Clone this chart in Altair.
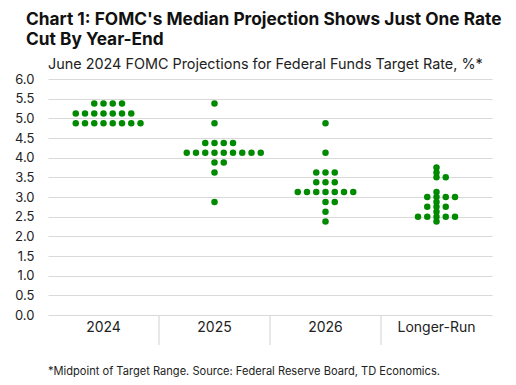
import altair as alt
import pandas as pd

# ---- data ----
years = ["2024", "2025", "2026", "Longer-Run"]

# for every year: dot levels (%), column of the first dot in the row, number of dots
rates_2024 = [5.375, 5.125, 4.875]
first_2024 = [-1, -3, -3]
count_2024 = [4, 7, 8]

rates_2025 = [5.375, 4.875, 4.375, 4.125, 3.875, 3.625, 2.875]
first_2025 = [0, 0, -1, -3, 0, 0, 0]
count_2025 = [1, 1, 4, 9, 2, 1, 1]

rates_2026 = [4.875, 4.125, 3.625, 3.375, 3.125, 2.875, 2.625, 2.375]
first_2026 = [0, 0, -1, -1, -3, 0, 0, 0]
count_2026 = [1, 1, 3, 3, 7, 2, 1, 1]

rates_lr = [3.75, 3.625, 3.5, 3.125, 3.0, 2.875, 2.75, 2.625, 2.5, 2.375]
first_lr = [0, 0, 0, 0, -1, 0, -1, 0, -2, 0]
count_lr = [1, 1, 2, 1, 4, 1, 3, 1, 5, 1]

y_ticks = [0.0, 0.5, 1.0, 1.5, 2.0, 2.5, 3.0, 3.5, 4.0, 4.5, 5.0, 5.5, 6.0]

title_lines = ["Chart 1: FOMC's Median Projection Shows Just One Rate", "Cut By Year-End"]
subtitle = "June 2024 FOMC Projections for Federal Funds Target Rate, %*"
footnote = "*Midpoint of Target Range. Source: Federal Reserve Board, TD Economics."

# ---- build table ----
rows = []
for yr, rates, firsts, counts in [
    ("2024", rates_2024, first_2024, count_2024),
    ("2025", rates_2025, first_2025, count_2025),
    ("2026", rates_2026, first_2026, count_2026),
    ("Longer-Run", rates_lr, first_lr, count_lr),
]:
    for r, f, c in zip(rates, firsts, counts):
        for k in range(c):
            rows.append({"year": yr, "rate": r, "col": f + k})
df = pd.DataFrame(rows)
sep_df = pd.DataFrame({"year": years[1:]})

W, H = 455, 236
GREEN = "#008a00"
GRID = "#d9d9d9"
FONT = "Inter"
TXT = "#222222"

xscale = alt.Scale(domain=years, range=[0, 444], paddingInner=0, paddingOuter=0)
xaxis = alt.Axis(labelAngle=0, ticks=False, domain=False, grid=False,
                 labelFont=FONT, labelFontSize=14, labelColor=TXT,
                 labelPadding=5)

dots = alt.Chart(df).mark_circle(size=42, color=GREEN, opacity=1).encode(
    x=alt.X("year:N", sort=years, scale=xscale, title=None, axis=xaxis),
    xOffset=alt.XOffset("col:Q", scale=alt.Scale(domain=[-6, 6], nice=False, zero=False)),
    y=alt.Y("rate:Q", scale=alt.Scale(domain=[0, 6], nice=False), title=None,
            axis=alt.Axis(values=y_ticks, format=".1f", ticks=False, domain=False,
                          gridColor=GRID, gridWidth=1.2, labelFont=FONT,
                          labelFontSize=13, labelColor=TXT, labelPadding=14)),
)

seps = alt.Chart(sep_df).mark_rule(color=GRID, strokeWidth=1.2).encode(
    x=alt.X("year:N", bandPosition=0, scale=xscale, title=None, axis=xaxis),
    y=alt.value(H),
    y2=alt.value(H + 30),
)

def txt(s, x, y, size, weight="normal", color=TXT):
    return alt.Chart(pd.DataFrame({"t": [s]})).mark_text(
        align="left", baseline="alphabetic", font=FONT, fontSize=size,
        fontWeight=weight, color=color
    ).encode(text="t:N", x=alt.value(x), y=alt.value(y))

t1 = txt(title_lines[0], -22, -54, 17.3, "bold", "#111111")
t2 = txt(title_lines[1], -22, -34, 17.3, "bold", "#111111")
st = txt(subtitle, 0, -10, 14.4)
fn = txt(footnote, 0, 296, 11.1)

chart = alt.layer(dots, seps, t1, t2, st, fn).properties(
    width=W, height=H,
    autosize=alt.AutoSizeParams(type="none"),
    padding={"left": 40, "top": 71, "right": 5, "bottom": 62},
).configure_view(stroke=None)

chart.save("out.html", embed_options={"renderer": "svg", "actions": False})
